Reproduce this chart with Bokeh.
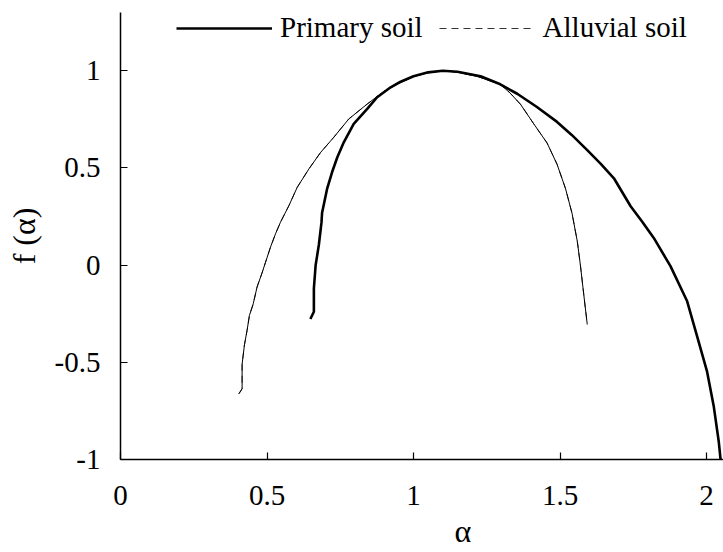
from bokeh.plotting import figure
from bokeh.models import Range1d, FixedTicker, Legend, LegendItem, Title
from bokeh.embed import file_html
from bokeh.resources import INLINE

# ---- data ----
primary_alpha = [0.648, 0.660, 0.660, 0.666, 0.677, 0.686, 0.688, 0.705, 0.722, 0.740,
                 0.762, 0.796, 0.842, 0.876, 0.922, 0.956, 1.000, 1.050, 1.100, 1.150,
                 1.229, 1.290, 1.354, 1.420, 1.490, 1.540, 1.593, 1.640, 1.684, 1.741,
                 1.780, 1.820, 1.877, 1.934, 1.968, 2.002, 2.025, 2.042, 2.048]
primary_f = [-0.277, -0.240, -0.120, 0.000, 0.105, 0.220, 0.270, 0.392, 0.478, 0.555,
             0.632, 0.727, 0.804, 0.864, 0.915, 0.944, 0.972, 0.992, 1.000, 0.995,
             0.972, 0.935, 0.882, 0.815, 0.737, 0.670, 0.592, 0.520, 0.447, 0.303,
             0.225, 0.140, -0.005, -0.186, -0.367, -0.548, -0.729, -0.910, -1.000]

alluvial_alpha = [0.404, 0.415, 0.415, 0.423, 0.432, 0.440, 0.453, 0.466, 0.484, 0.495,
                  0.512, 0.529, 0.546, 0.575, 0.603, 0.643, 0.683, 0.728, 0.779, 0.842,
                  0.900, 0.950, 1.000, 1.050, 1.100, 1.150, 1.220, 1.297, 1.330, 1.365,
                  1.410, 1.456, 1.490, 1.519, 1.541, 1.559, 1.570, 1.581, 1.593]
alluvial_f = [-0.662, -0.636, -0.510, -0.410, -0.336, -0.259, -0.199, -0.113, -0.036, 0.015,
              0.093, 0.161, 0.221, 0.307, 0.400, 0.495, 0.580, 0.658, 0.752, 0.829,
              0.895, 0.935, 0.970, 0.990, 1.000, 0.993, 0.970, 0.930, 0.885, 0.828,
              0.728, 0.628, 0.519, 0.393, 0.267, 0.123, -0.005, -0.150, -0.305]

x_ticks = [0, 0.5, 1, 1.5, 2]
x_tick_labels = ["0", "0.5", "1", "1.5", "2"]
y_ticks = [-1, -0.5, 0, 0.5, 1]
y_tick_labels = ["-1", "-0.5", "0", "0.5", "1"]

series_names = ["Primary soil", "Alluvial soil"]
x_title = "α"
y_title = "f (α)"

FONT = '"Liberation Serif", "Times New Roman", "DejaVu Serif", serif'

p = figure(width=723, height=552, output_backend="svg", toolbar_location=None,
           x_range=Range1d(0, 2.058), y_range=Range1d(-1, 1.3),
           min_border_left=120, min_border_right=0, min_border_top=12,
           min_border_bottom=93)
p.outline_line_color = None
p.grid.visible = False
p.background_fill_color = "white"
p.border_fill_color = "white"

# dashed key line (hidden under the solid thin curve, used for the legend sample)
r_alluvial_key = p.line(alluvial_alpha, alluvial_f, line_color="#333333",
                        line_width=1, line_dash="7 5")
r_alluvial = p.line(alluvial_alpha, alluvial_f, line_color="black", line_width=1)
r_primary = p.line(primary_alpha, primary_f, line_color="black", line_width=2.6)

for ax in (p.xaxis[0], p.yaxis[0]):
    ax.axis_line_color = "black"
    ax.axis_line_width = 1.5
    ax.major_tick_line_color = "black"
    ax.major_tick_line_width = 1.2
    ax.major_tick_in = 7
    ax.major_tick_out = 0
    ax.minor_tick_line_color = None
    ax.major_label_text_font = FONT
    ax.major_label_text_font_size = "29px"
    ax.major_label_text_color = "black"

p.xaxis.ticker = FixedTicker(ticks=x_ticks)
p.xaxis.major_label_overrides = dict(zip(x_ticks, x_tick_labels))
p.xaxis.major_label_standoff = 26

p.yaxis.ticker = FixedTicker(ticks=y_ticks)
p.yaxis.major_label_overrides = dict(zip(y_ticks, y_tick_labels))
p.yaxis.major_label_standoff = 20
p.yaxis.axis_label = y_title
p.yaxis.axis_label_text_font = FONT
p.yaxis.axis_label_text_font_size = "32px"
p.yaxis.axis_label_text_font_style = "normal"
p.yaxis.axis_label_text_color = "black"
p.yaxis.axis_label_standoff = 10

x_label = Title(text=x_title, align="left", offset=334, standoff=6,
                text_font=FONT, text_font_size="32px",
                text_font_style="normal", text_color="black")
p.add_layout(x_label, "below")

legend = Legend(items=[LegendItem(label=series_names[0], renderers=[r_primary]),
                       LegendItem(label=series_names[1], renderers=[r_alluvial_key])],
                orientation="horizontal", location=(56, 415),
                glyph_width=96, glyph_height=32, label_height=32,
                label_standoff=8, spacing=16, padding=0, margin=0,
                border_line_color=None, background_fill_alpha=0,
                label_text_font=FONT, label_text_font_size="29px",
                label_text_color="black")
p.add_layout(legend)

open("out.html", "w").write(file_html(p, INLINE))
